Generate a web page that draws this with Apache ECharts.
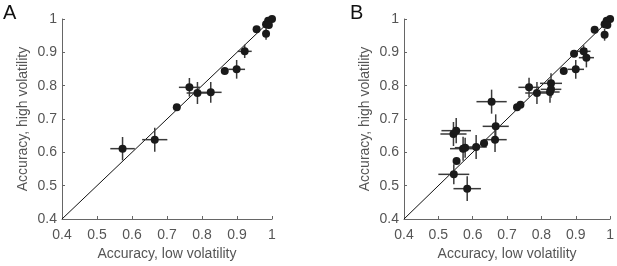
<!DOCTYPE html>
<html>
<head>
<meta charset="utf-8">
<script src="https://cdn.jsdelivr.net/npm/echarts@6/dist/echarts.min.js"></script>
<style>html,body{margin:0;padding:0;background:#fff}#c{width:617px;height:266px}</style>
</head>
<body>
<div id="c"></div>
<script>
// Panel A data
var aX    = [0.573, 0.665, 0.728, 0.764, 0.787, 0.825, 0.865, 0.899, 0.922, 0.956, 0.983, 0.983, 0.989, 1.000, 0.991];
var aY    = [0.611, 0.638, 0.735, 0.795, 0.778, 0.780, 0.844, 0.849, 0.903, 0.969, 0.956, 0.984, 0.995, 1.000, 0.982];
var aXErr = [0.035, 0.036, 0.008, 0.030, 0.031, 0.031, 0.008, 0.024, 0.020, 0.006, 0.006, 0.004, 0.004, 0.002, 0.004];
var aYErr = [0.035, 0.036, 0.010, 0.028, 0.033, 0.031, 0.008, 0.028, 0.020, 0.006, 0.018, 0.010, 0.006, 0.002, 0.008];
// Panel B data
var bX    = [0.545, 0.584, 0.553, 0.544, 0.552, 0.572, 0.578, 0.610, 0.633, 0.655, 0.667, 0.665, 0.729, 0.739, 0.764, 0.787, 0.828, 0.828, 0.825, 0.865, 0.900, 0.895, 0.923, 0.931, 0.955, 0.984, 0.984, 0.990, 1.000, 0.992];
var bY    = [0.534, 0.491, 0.574, 0.655, 0.665, 0.611, 0.614, 0.616, 0.627, 0.752, 0.678, 0.638, 0.735, 0.743, 0.795, 0.778, 0.807, 0.789, 0.781, 0.844, 0.849, 0.896, 0.903, 0.884, 0.968, 0.953, 0.984, 0.995, 1.000, 0.982];
var bXErr = [0.045, 0.040, 0.006, 0.038, 0.043, 0.038, 0.030, 0.031, 0.010, 0.044, 0.038, 0.034, 0.008, 0.006, 0.031, 0.034, 0.032, 0.030, 0.028, 0.008, 0.024, 0.006, 0.020, 0.022, 0.010, 0.006, 0.004, 0.004, 0.002, 0.004];
var bYErr = [0.030, 0.037, 0.008, 0.036, 0.038, 0.036, 0.030, 0.036, 0.010, 0.036, 0.036, 0.037, 0.008, 0.006, 0.029, 0.033, 0.030, 0.025, 0.032, 0.008, 0.028, 0.006, 0.018, 0.029, 0.010, 0.018, 0.010, 0.006, 0.002, 0.008];
var tickVals = [0.4, 0.5, 0.6, 0.7, 0.8, 0.9, 1];
var diag = [[0.4, 0.4], [1, 1]];

function pts(xs, ys) { return xs.map(function (x, i) { return [x, ys[i]]; }); }
function errData(xs, ys, xe, ye) { return xs.map(function (x, i) { return [x, ys[i], xe[i], ye[i]]; }); }

function errRender(params, api) {
  var x = api.value(0), y = api.value(1), xe = api.value(2), ye = api.value(3);
  var l = api.coord([x - xe, y]), r = api.coord([x + xe, y]);
  var t = api.coord([x, y + ye]), b = api.coord([x, y - ye]);
  var st = { stroke: '#3a3a3a', lineWidth: 1.5 };
  return { type: 'group', children: [
    { type: 'line', shape: { x1: l[0], y1: l[1], x2: r[0], y2: r[1] }, style: st },
    { type: 'line', shape: { x1: t[0], y1: t[1], x2: b[0], y2: b[1] }, style: st }
  ]};
}

var font = 'Liberation Sans, Arial, Helvetica, sans-serif';
function fmt(v) { return String(Math.round(v * 10) / 10); }
function mkX(gi) {
  return {
    type: 'value', gridIndex: gi, min: 0.4, max: 1, interval: 0.1,
    name: 'Accuracy, low volatility', nameLocation: 'middle', nameGap: 28,
    nameTextStyle: { color: '#555', fontSize: 14, fontFamily: font },
    axisLine: { show: true, lineStyle: { color: '#666', width: 1 } },
    axisTick: { show: true, inside: true, length: 3, lineStyle: { color: '#666' } },
    splitLine: { show: false },
    axisLabel: { color: '#555', fontSize: 14, fontFamily: font, margin: 9, formatter: fmt }
  };
}
function mkY(gi) {
  return {
    type: 'value', gridIndex: gi, min: 0.4, max: 1, interval: 0.1,
    name: 'Accuracy, high volatility', nameLocation: 'middle', nameGap: 32,
    nameTextStyle: { color: '#555', fontSize: 14, fontFamily: font },
    axisLine: { show: true, lineStyle: { color: '#666', width: 1 } },
    axisTick: { show: true, inside: true, length: 3, lineStyle: { color: '#666' } },
    splitLine: { show: false },
    axisLabel: { color: '#555', fontSize: 14, fontFamily: font, margin: 5, formatter: fmt }
  };
}

var chart = echarts.init(document.getElementById('c'), null, { renderer: 'canvas' });
chart.setOption({
  animation: false,
  backgroundColor: '#fff',
  title: [
    { text: 'A', left: -2, top: -2, textStyle: { fontSize: 20, fontWeight: 'normal', color: '#111', fontFamily: font } },
    { text: 'B', left: 345, top: -2, textStyle: { fontSize: 20, fontWeight: 'normal', color: '#111', fontFamily: font } }
  ],
  grid: [
    { left: 62, top: 19, width: 210, height: 210 },
    { left: 404, top: 19, width: 209, height: 210 }
  ],
  xAxis: [mkX(0), mkX(1)],
  yAxis: [mkY(0), mkY(1)],
  series: [
    { type: 'line', xAxisIndex: 0, yAxisIndex: 0, data: diag, symbol: 'none', lineStyle: { color: '#111', width: 1 }, z: 1 },
    { type: 'line', xAxisIndex: 1, yAxisIndex: 1, data: diag, symbol: 'none', lineStyle: { color: '#111', width: 1 }, z: 1 },
    { type: 'custom', xAxisIndex: 0, yAxisIndex: 0, renderItem: errRender, data: errData(aX, aY, aXErr, aYErr), z: 2 },
    { type: 'custom', xAxisIndex: 1, yAxisIndex: 1, renderItem: errRender, data: errData(bX, bY, bXErr, bYErr), z: 2 },
    { type: 'scatter', xAxisIndex: 0, yAxisIndex: 0, data: pts(aX, aY), symbolSize: 8, itemStyle: { color: '#1a1a1a', opacity: 1 }, z: 3 },
    { type: 'scatter', xAxisIndex: 1, yAxisIndex: 1, data: pts(bX, bY), symbolSize: 8, itemStyle: { color: '#1a1a1a', opacity: 1 }, z: 3 }
  ]
});
</script>
</body>
</html>
